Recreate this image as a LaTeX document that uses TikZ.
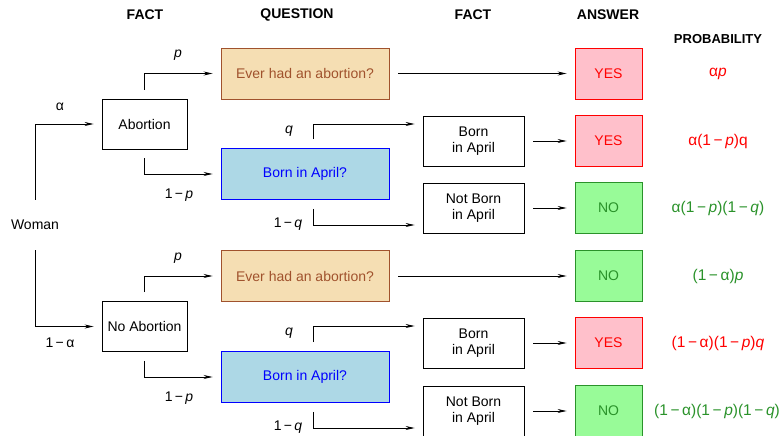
\documentclass[tikz,border=0pt]{standalone}
\usepackage{fontspec}
\setmainfont{Liberation Sans}
\usepackage{xcolor}
\usepackage{tikz}
\usetikzlibrary{positioning, arrows.meta}

\definecolor{evfill}{HTML}{F5DEB3}
\definecolor{evline}{HTML}{A0522D}
\definecolor{bqfill}{HTML}{ADD8E6}
\definecolor{yesfill}{HTML}{FFC0CB}
\definecolor{nofill}{HTML}{98FB98}
\definecolor{nogreen}{HTML}{2A922A}

\newcommand{\probp}{\textit{p}}
\newcommand{\probq}{\textit{q}}
\newcommand{\mns}{\,−\,}

\begin{document}
\begin{tikzpicture}[x=1pt,y=-1pt,
  every node/.style={font=\fontsize{14}{16}\selectfont},
  head/.style={font=\fontsize{14}{16}\selectfont\bfseries},
  prob/.style={font=\fontsize{15.5}{17}\selectfont},
  fact/.style={draw, line width=0.8pt, minimum width=85pt, minimum height=50pt, inner sep=1pt, align=center},
  fact2/.style={fact, minimum width=101pt},
  evq/.style={draw=evline, fill=evfill, text=evline, line width=0.9pt, minimum width=168pt, minimum height=51pt},
  bornq/.style={draw=blue, fill=bqfill, text=blue, line width=0.9pt, minimum width=168pt, minimum height=51pt},
  yes/.style={draw=red, fill=yesfill, text=red, line width=0.9pt, minimum width=67pt, minimum height=51pt},
  no/.style={draw=nogreen, fill=nofill, text=nogreen, line width=0.9pt, minimum width=67pt, minimum height=51pt},
  link/.style={-{Stealth[length=9pt,width=4pt]}, line width=0.75pt, shorten <=9pt, shorten >=8pt}]

\useasboundingbox (0,0) rectangle (782,436);

% Headers
\node[head] (h1) at (145,15) {FACT};
\node[head] (h2) at (297,15) {QUESTION};
\node[head] (h3) at (473,15) {FACT};
\node[head] (h4) at (608,15) {ANSWER};
\node[head, font=\fontsize{13}{15}\selectfont\bfseries] (h5) at (718,39) {PROBABILITY};

% Define nodes
\node (w) at (35,225) {Woman};
\node[fact] (ab) at (144.5,124) {Abortion};
\node[fact] (nab) at (144.5,326.5) {No Abortion};

\node[evq] (ev1) at (305,73.5) {Ever had an abortion?};
\node[bornq] (bq1) at (305,174) {Born in April?};
\node[evq] (ev2) at (305,276) {Ever had an abortion?};
\node[bornq] (bq2) at (305,377) {Born in April?};

\node[fact2] (bf1) at (473.5,141) {Born\\in April};
\node[fact2] (nbf1) at (473.5,208) {Not Born\\in April};
\node[fact2] (bf2) at (473.5,343) {Born\\in April};
\node[fact2] (nbf2) at (473.5,411) {Not Born\\in April};

\node[yes] (a1) at (608.5,73.5) {YES};
\node[yes] (a2) at (608.5,141) {YES};
\node[no] (a3) at (608.5,208) {NO};
\node[no] (a4) at (608.5,276) {NO};
\node[yes] (a5) at (608.5,343) {YES};
\node[no] (a6) at (608.5,411) {NO};

% Probabilities
\node[prob, text=red] (pr1) at (718,73.5) {α\probp};
\node[prob, text=red] (pr2) at (718,141) {α(1\mns\probp)q};
\node[prob, text=nogreen] (pr3) at (718,208) {α(1\mns\probp)(1\mns\probq)};
\node[prob, text=nogreen] (pr4) at (718,276) {(1\mns α)\probp};
\node[prob, text=red] (pr5) at (718,343) {(1\mns α)(1\mns\probp)\probq};
\node[prob, text=nogreen] (pr6) at (717,411) {(1\mns α)(1\mns\probp)(1\mns\probq)};

% Connect the nodes
\draw[link, shorten <=17pt] (w.north) |- (ab.west);
\draw[link, shorten <=17pt] (w.south) |- (nab.west);
\draw[link] (ab.north) |- (ev1.west);
\draw[link] (ab.south) |- (bq1.west);
\draw[link] (nab.north) |- (ev2.west);
\draw[link] (nab.south) |- (bq2.west);
\draw[link] ([xshift=8pt]bq1.north) |- ([yshift=17pt]bf1.west);
\draw[link] ([xshift=8pt]bq1.south) |- ([yshift=-17pt]nbf1.west);
\draw[link] ([xshift=8pt]bq2.north) |- ([yshift=17pt]bf2.west);
\draw[link] ([xshift=8pt]bq2.south) |- ([yshift=-17pt]nbf2.west);
\draw[link] (ev1) -- (a1);
\draw[link] (bf1) -- (a2);
\draw[link] (nbf1) -- (a3);
\draw[link] (ev2) -- (a4);
\draw[link] (bf2) -- (a5);
\draw[link] (nbf2) -- (a6);

% Branch labels
\node at (60,107) {α};
\node at (60,343) {1\mns α};
\node at (178,55) {\probp};
\node at (179,195) {1\mns\probp};
\node at (178,258) {\probp};
\node at (179,398) {1\mns\probp};
\node at (289,131) {\probq};
\node at (288,224) {1\mns\probq};
\node at (289,333) {\probq};
\node at (288,427) {1\mns\probq};
\end{tikzpicture}
\end{document}
